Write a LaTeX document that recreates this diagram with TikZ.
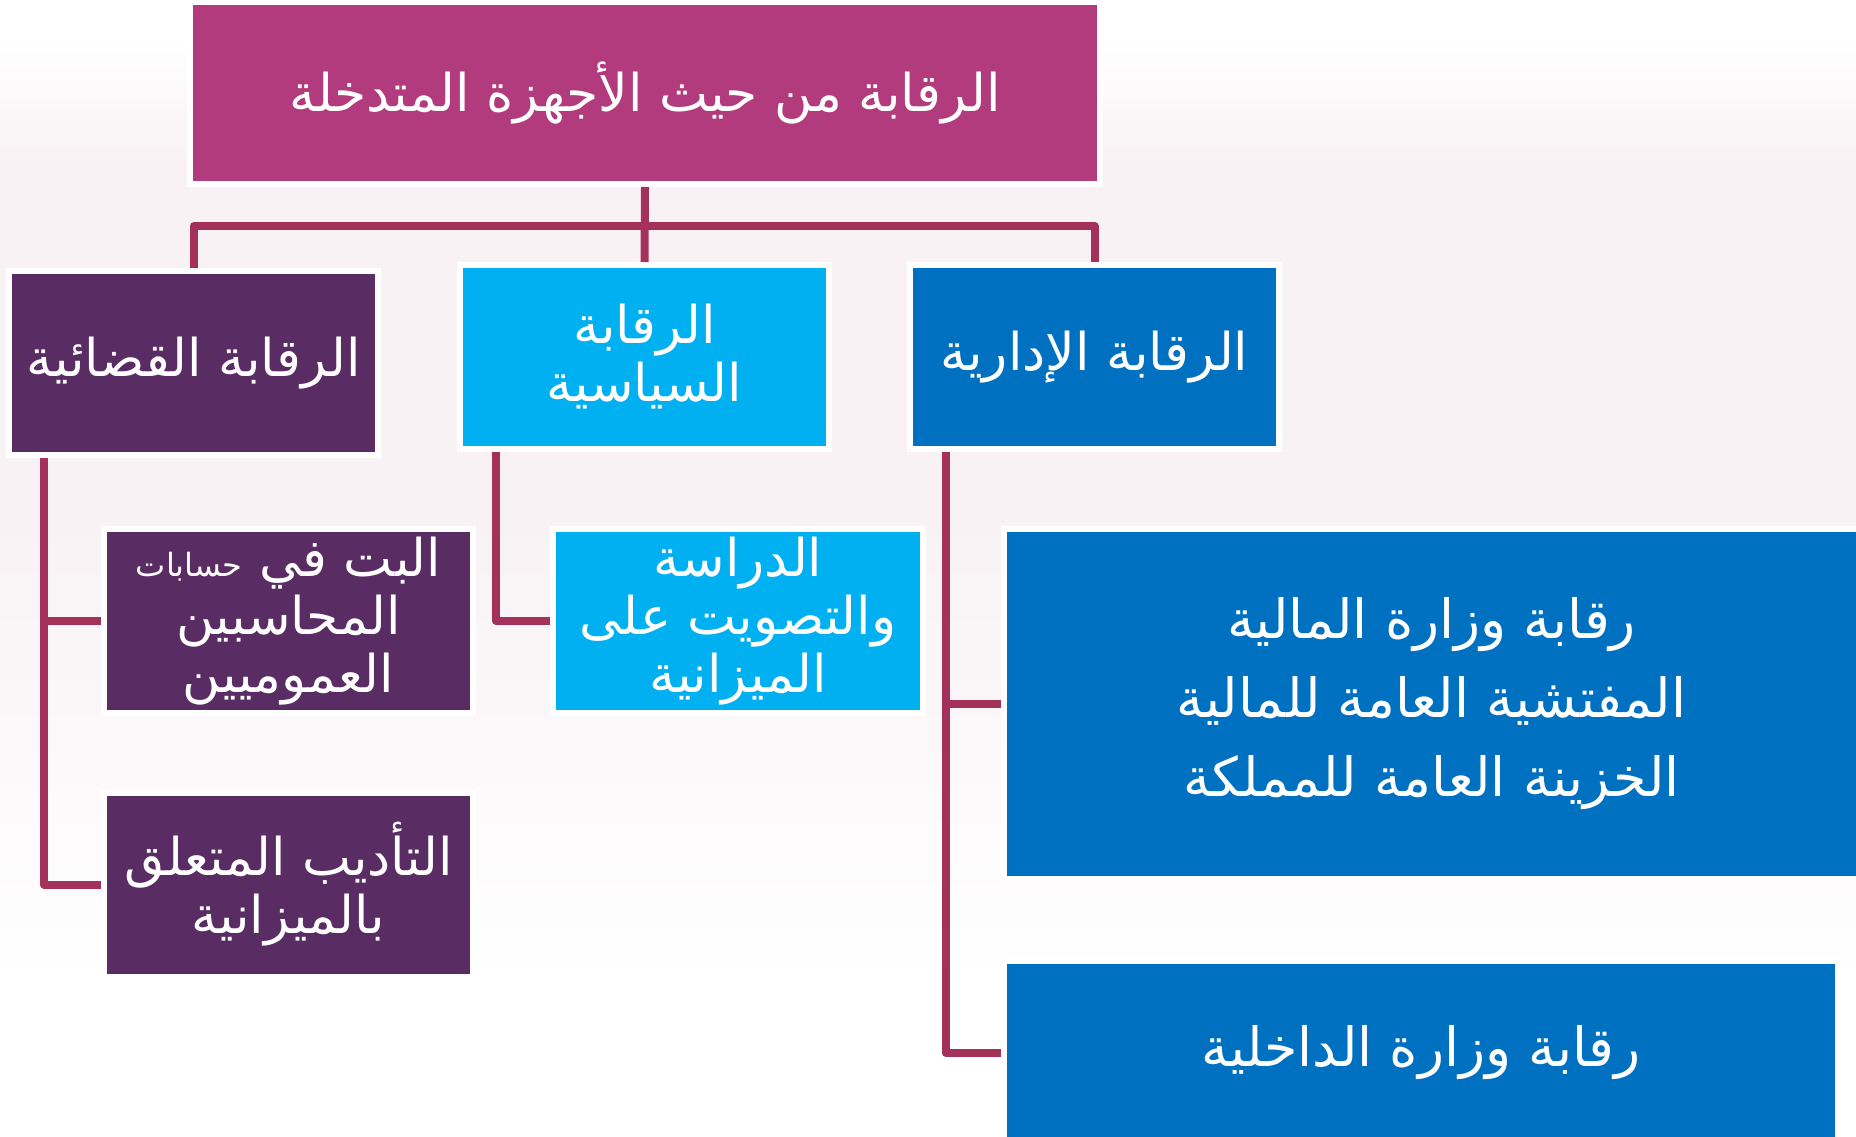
\documentclass[tikz,border=0pt]{standalone}
\usepackage{fontspec}
\newfontfamily\arabicfont[Script=Arabic]{DejaVu Sans}
\TeXXeTstate=1

\definecolor{topmagenta}{RGB}{177,59,124}
\definecolor{judpurple}{RGB}{89,44,99}
\definecolor{polcyan}{RGB}{0,176,240}
\definecolor{admblue}{RGB}{0,112,192}
\definecolor{linkred}{RGB}{163,49,90}
\definecolor{bgtint}{RGB}{248,242,244}

\newcommand{\artext}[1]{\beginR #1\endR}

\begin{document}
\begin{tikzpicture}[x=1pt, y=-1pt,
    box/.style={rectangle, draw=white, line width=6pt, text=white, align=center, inner sep=0pt, font=\arabicfont\fontsize{52}{58}\selectfont},
    bigbox/.style={box, font=\arabicfont\fontsize{54}{79}\selectfont},
    link/.style={draw=linkred, line width=8pt, line join=round}]

        \useasboundingbox (0,0) rectangle (1856,1137);
        \fill[white] (0,0) rectangle (1856,1137);
        \shade[top color=white, bottom color=bgtint] (0,40) rectangle (1856,160);
        \fill[bgtint] (0,159) rectangle (1856,521);
        \shade[top color=bgtint, bottom color=white] (0,520) rectangle (1856,980);

        \node[box, fill=topmagenta, minimum width=910pt, minimum height=182pt] (top) at (645,93) {\artext{الرقابة من حيث الأجهزة المتدخلة}};

        \node[box, fill=judpurple, minimum width=369pt, minimum height=184pt] (jud) at (193.5,363) {\artext{الرقابة القضائية}};
        \node[box, fill=polcyan, minimum width=369pt, minimum height=184pt] (pol) at (644.5,357) {\artext{الرقابة}\\\artext{السياسية}};
        \node[box, fill=admblue, minimum width=369pt, minimum height=184pt] (adm) at (1094.5,357) {\artext{الرقابة الإدارية}};

        \node[box, fill=judpurple, minimum width=369pt, minimum height=184pt] (jud1) at (288.5,621) {\artext{البت في {\fontsize{32}{34}\selectfont حسابات}}\\\artext{المحاسبين}\\\artext{العموميين}};
        \node[box, fill=judpurple, minimum width=369pt, minimum height=184pt] (jud2) at (288.5,884.5) {\artext{التأديب المتعلق}\\\artext{بالميزانية}};
        \node[box, fill=polcyan, minimum width=370pt, minimum height=184pt] (pol1) at (738,621) {\artext{الدراسة}\\\artext{والتصويت على}\\\artext{الميزانية}};

        \node[bigbox, fill=admblue, minimum width=855pt, minimum height=350pt] (adm1) at (1431.5,704) {\artext{رقابة وزارة المالية}\\\artext{المفتشية العامة للمالية}\\\artext{الخزينة العامة للمملكة}};
        \node[bigbox, fill=admblue, minimum width=834pt, minimum height=184pt] (adm2) at (1421,1053) {\artext{رقابة وزارة الداخلية}};

        \coordinate (bar) at (645,226);
        \draw[link] (top.south) -- (pol.north);
        \draw[link] (jud.north) |- (bar) -| (adm.north);

        \draw[link] ([xshift=38pt]jud.south west) |- (jud1.west);
        \draw[link] ([xshift=38pt]jud.south west) |- (jud2.west);
        \draw[link] ([xshift=39pt]pol.south west) |- (pol1.west);
        \draw[link] ([xshift=39pt]adm.south west) |- (adm1.west);
        \draw[link] ([xshift=39pt]adm.south west) |- (adm2.west);
    \end{tikzpicture}
\end{document}
